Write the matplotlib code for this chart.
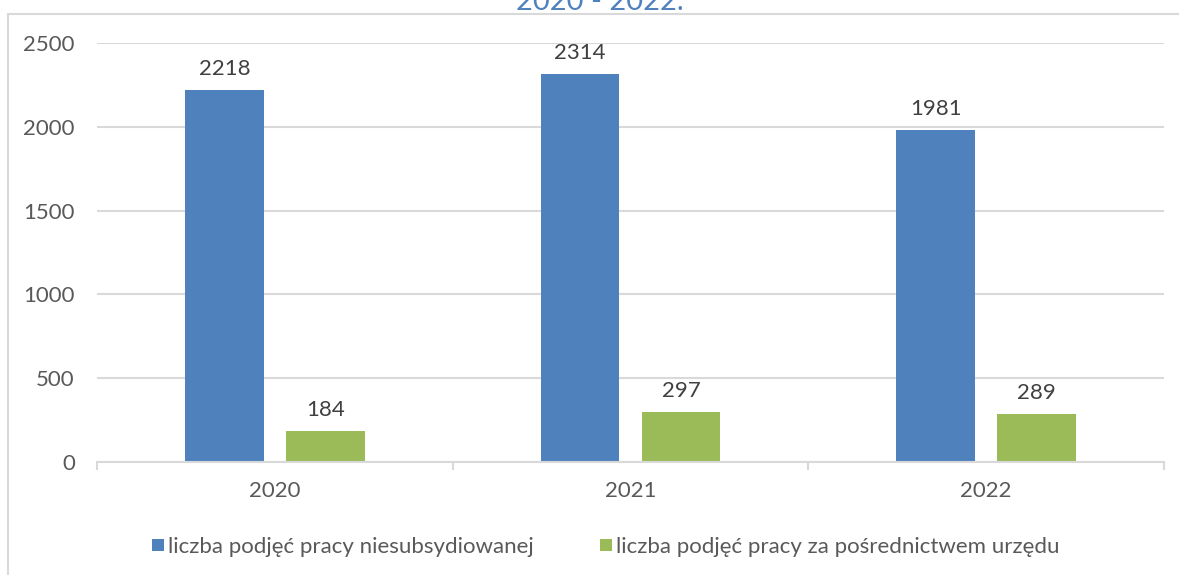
import matplotlib
matplotlib.use("Agg")
import matplotlib.pyplot as plt
import matplotlib.patches as mpatches
import numpy as np

plt.rcParams['font.family'] = ['Lato', 'DejaVu Sans']

years = ["2020", "2021", "2022"]
niesubsydiowane = [2218, 2314, 1981]
posrednictwo = [184, 297, 289]
series_names = ["liczba podjęć pracy niesubsydiowanej",
                "liczba podjęć pracy za pośrednictwem urzędu"]
title = "2020 - 2022."
yticks = [0, 500, 1000, 1500, 2000, 2500]

blue = "#4f81bd"
green = "#9bbb59"
grid_c = "#d9d9d9"
txt_c = "#595959"
lbl_c = "#404040"
fs = 16

fig = plt.figure(figsize=(11.79, 5.75), dpi=100)
ax = fig.add_axes([97/1179, 1-462/575, (1164-97)/1179, (462-43)/575])

x = np.arange(len(years))
w = 0.222
off = 0.142
b1 = ax.bar(x - off, niesubsydiowane, w, color=blue, label=series_names[0])
b2 = ax.bar(x + off, posrednictwo, w, color=green, label=series_names[1])

for bars in (b1, b2):
    for r in bars:
        ax.annotate(f"{int(r.get_height())}", (r.get_x() + r.get_width()/2, r.get_height()),
                    xytext=(0, 11), textcoords="offset pixels", ha="center", va="bottom",
                    fontsize=fs, color=lbl_c)

ax.set_xlim(-0.5, len(years) - 0.5)
ax.set_ylim(0, 2500)
ax.set_yticks(yticks)
ax.set_yticklabels([str(v) for v in yticks])
ax.yaxis.grid(True, color=grid_c, linewidth=1.5)
ax.set_axisbelow(True)
ax.tick_params(axis='y', length=0, pad=16, labelsize=fs, labelcolor=txt_c)

ax.set_xticks(x)
ax.set_xticklabels(years)
ax.tick_params(axis='x', length=0, pad=14, labelsize=fs, labelcolor=txt_c)
ax.set_xticks(np.arange(-0.5, len(years)), minor=True)
ax.tick_params(axis='x', which='minor', length=6, width=1.5, color=grid_c)

for s in ['top', 'right', 'left']:
    ax.spines[s].set_visible(False)
ax.spines['bottom'].set_color(grid_c)
ax.spines['bottom'].set_linewidth(1.5)

fig.legend(handles=[b1, b2], labels=series_names, loc="center", bbox_to_anchor=(606/1179, 1-547/575),
           ncol=2, frameon=False, fontsize=fs, labelcolor=txt_c, handlelength=0.5, handleheight=0.5,
           handletextpad=0.2, columnspacing=3.0)

fig.text(600/1179, 1-10/575, title, ha="center", va="baseline", fontsize=21, color=blue)

border = mpatches.Rectangle((8/1179, -0.2), 1.2, 1.2 - 14/575, transform=fig.transFigure,
                            fill=False, edgecolor=grid_c, linewidth=1.5, clip_on=False)
fig.add_artist(border)

fig.savefig("out.png", dpi=100)
